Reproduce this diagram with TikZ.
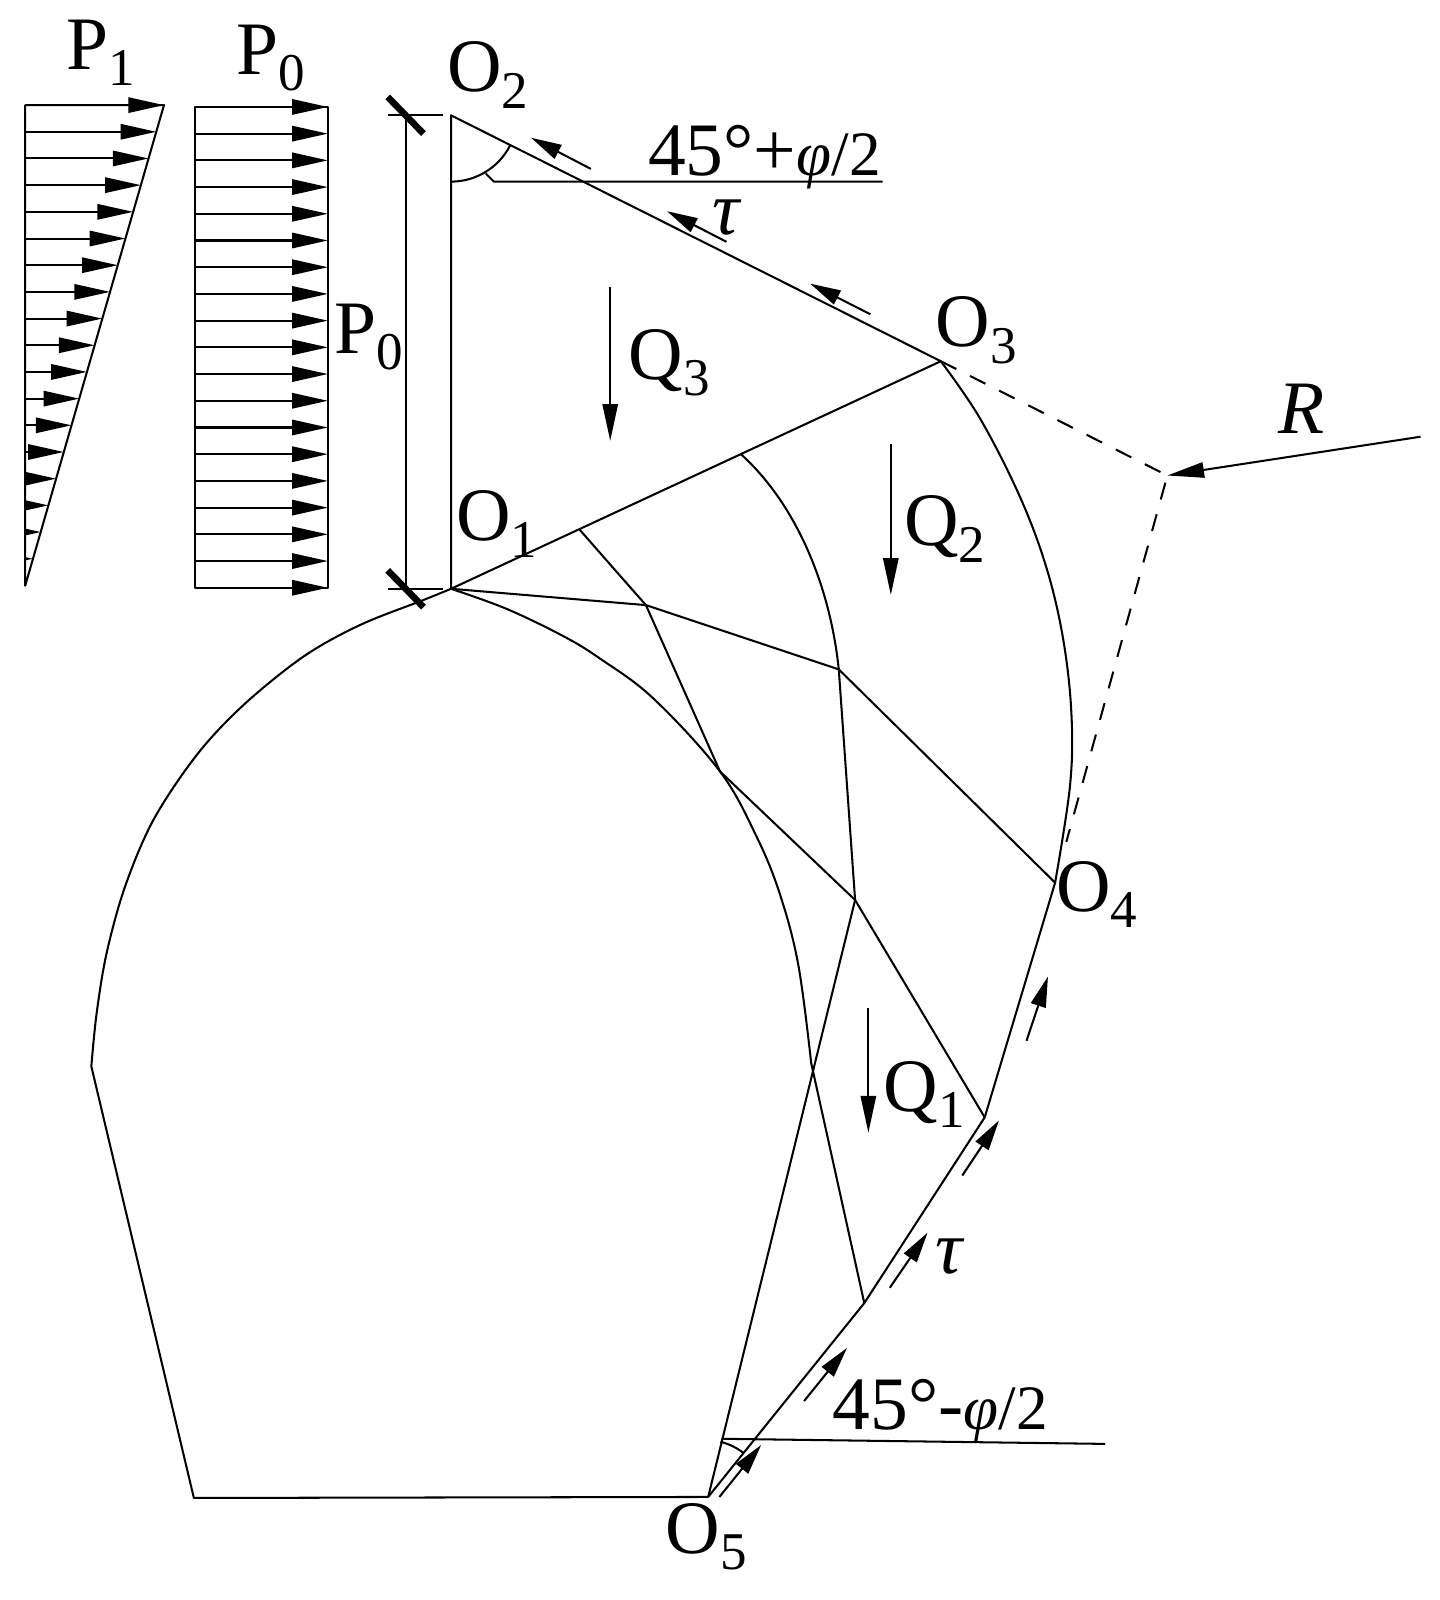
\documentclass[tikz,border=0pt]{standalone}
\usepackage{fontspec}
\setmainfont{Liberation Serif}
\usetikzlibrary{arrows.meta}
\newcommand{\bigf}{\fontsize{74}{74}\selectfont}
\newcommand{\subf}{\fontsize{52}{52}\selectfont}
\newcommand{\phif}{\fontsize{62}{62}\selectfont}
\newcommand{\lbl}[2]{{\bigf #1}\raisebox{-16pt}{\subf #2}}
\tikzset{
  ln/.style={line width=2pt,line join=round},
  txt/.style={inner sep=0pt,anchor=base west,text=black},
  loadarrow/.style={line width=2pt,-{Triangle[length=35pt,width=15pt]}},
  forcearrow/.style={line width=2pt,-{Triangle[length=36pt,width=15pt]}},
  sheararrow/.style={line width=2pt,-{Triangle[length=30pt,width=15pt]}},
  tick/.style={line width=6.5pt}
}
\begin{document}
\begin{tikzpicture}[x=1pt,y=-1pt]
\useasboundingbox (0,0) rectangle (1411,1568);
% key points
\coordinate (O1) at (442,577);
\coordinate (O2) at (442,113);
\coordinate (O3) at (922,354);
\coordinate (O4) at (1034,865);
\coordinate (O5) at (694,1467);
\coordinate (A) at (965,1095);
\coordinate (B) at (847,1277);
\coordinate (C) at (568,519);
\coordinate (D) at (726,445);
\coordinate (E) at (822,656);
\coordinate (F) at (633,593);
\coordinate (G) at (705.6,756);
\coordinate (H) at (838,882);
\coordinate (I) at (795,1042);
\coordinate (T) at (1144,466);
\coordinate (Tb) at (1045,825);
\coordinate (Rr) at (1392,428);
\coordinate (Bl) at (190,1468);
\coordinate (Wl) at (89.5,1045);
\coordinate (Tk) at (415,588);
% P1 triangle
\coordinate (p1a) at (24.7,103);
\coordinate (p1b) at (160.7,103);
\coordinate (p1c) at (24.7,574);
\coordinate (p1box) at (320,600);
\begin{scope}
\clip (p1a |- 0,80) rectangle (p1box);
\foreach \i in {0,...,17}{
  \pgfmathsetmacro{\yy}{103+26.15*\i}
  \pgfmathsetmacro{\xx}{160.7-0.28875*(\yy-103)}
  \coordinate (s\i) at (24.7,\yy);
  \coordinate (e\i) at (\xx,\yy);
  \draw[loadarrow] (s\i) -- (e\i);
}
\end{scope}
\draw[ln] (p1a) -- (p1b) -- (p1c) -- cycle;
% P0 box
\coordinate (p0a) at (190.8,104.8);
\coordinate (p0b) at (321.3,104.8);
\coordinate (p0c) at (321.3,576);
\coordinate (p0d) at (190.8,576);
\draw[ln] (p0a) -- (p0b) -- (p0c) -- (p0d) -- cycle;
\foreach \i in {0,...,18}{
  \pgfmathsetmacro{\yy}{104.8+26.178*\i}
  \coordinate (u\i) at (190.8,\yy);
  \coordinate (v\i) at (321.3,\yy);
  \draw[loadarrow] (u\i) -- (v\i);
}
% dimension
\coordinate (d1) at (398,113);
\coordinate (d2) at (398,577);
\coordinate (d1a) at (380,113);
\coordinate (d1b) at (434,113);
\coordinate (d2a) at (380,577);
\coordinate (d2b) at (434,577);
\draw[ln] (d1) -- (d2);
\draw[ln] (d1a) -- (d1b);
\draw[ln] (d2a) -- (d2b);
\coordinate (t1a) at (380,95);
\coordinate (t1b) at (415,131);
\coordinate (t2a) at (380,559);
\coordinate (t2b) at (415,595);
\draw[tick] (t1a) -- (t1b);
\draw[tick] (t2a) -- (t2b);
% wedge
\draw[ln] (O2) -- (O1) -- (O3) -- cycle;
% angle top
\coordinate (ang1) at (442,178);
\draw[ln] (ang1) arc[start angle=90,end angle=27,radius=65];
\coordinate (hl1) at (484,178);
\coordinate (hl2) at (865,178);
\coordinate (hl0) at (476,170);
\draw[ln] (hl0) -- (hl1) -- (hl2);
% shear top
\coordinate (sa1) at (579,165.5);
\coordinate (sa2) at (520.4,135);
\coordinate (sb1) at (712,237);
\coordinate (sb2) at (653.7,207);
\coordinate (sc1) at (853,308);
\coordinate (sc2) at (794,278);
\draw[sheararrow] (sa1) -- (sa2);
\draw[sheararrow] (sb1) -- (sb2);
\draw[sheararrow] (sc1) -- (sc2);
% Tunnel
\draw[ln] plot[smooth,tension=.55] coordinates {(O1) (Tk) (352.8,612.5) (297.3,643.5) (238.5,691) (192.7,740) (150.3,803.6) (122.5,869) (104.5,934) (94.7,993) (Wl)} -- (Bl) -- (O5) -- (H);
% slip surfaces
\draw[ln] plot[smooth,tension=.6] coordinates {(O3) (960.4,410) (999.6,487) (1025.7,557) (1042,627) (1050,700) (1048.6,770) (O4)};
\draw[ln] (O4) -- (A) -- (B) -- (O5);
\draw[ln] (D) .. controls (778,492) and (813,570) .. (E) -- (H);
\draw[ln] (O1) -- (F) -- (E) -- (O4);
\draw[ln] plot[smooth,tension=.5] coordinates {(C) (602.7,558.6) (F)} -- (G) -- (H) -- (A);
\draw[ln] plot[smooth,tension=.6] coordinates {(O1) (496.5,596.7) (552,623.4) (588,645.4) (640.3,684.5) (G) (741.5,820) (764.4,876.6) (782.4,946) (I)} -- (B);
% dashed
\draw[ln,dash pattern=on 17pt off 15pt] (O3) -- (T) -- (Tb);
\draw[forcearrow] (Rr) -- (T);
% Q arrows
\coordinate (q3a) at (598,281);
\coordinate (q3b) at (598,432);
\coordinate (q2a) at (873,435);
\coordinate (q2b) at (873,583);
\coordinate (q1a) at (851,988);
\coordinate (q1b) at (851,1110);
\draw[forcearrow] (q3a) -- (q3b);
\draw[forcearrow] (q2a) -- (q2b);
\draw[forcearrow] (q1a) -- (q1b);
% shear lower
\coordinate (la1) at (1006,1020);
\coordinate (la2) at (1027,957);
\coordinate (lb1) at (943,1152);
\coordinate (lb2) at (979,1098);
\coordinate (lc1) at (872,1262);
\coordinate (lc2) at (909,1208);
\coordinate (ld1) at (788,1373);
\coordinate (ld2) at (830,1321);
\coordinate (le1) at (705,1467);
\coordinate (le2) at (746,1416);
\draw[sheararrow] (la1) -- (la2);
\draw[sheararrow] (lb1) -- (lb2);
\draw[sheararrow] (lc1) -- (lc2);
\draw[sheararrow] (ld1) -- (ld2);
\draw[sheararrow] (le1) -- (le2);
% lower angle
\coordinate (hm1) at (707,1410);
\coordinate (hm2) at (1083,1415);
\draw[ln] (hm1) -- (hm2);
\coordinate (ang2) at (706,1413);
\draw[ln] (ang2) arc[start angle=-77,end angle=-51,radius=56];
% labels
\node[txt] (lP1) at (65,68) {\lbl{P}{1}};
\node[txt] (lP0) at (232,73) {\lbl{P}{0}};
\node[txt] (lP0b) at (328,346) {\lbl{P}{0}};
\node[txt] (lO2) at (438,90) {\lbl{O}{2}};
\node[txt] (lO1) at (447,530) {\lbl{O}{1}};
\node[txt] (lO3) at (917,340) {\lbl{O}{3}};
\node[txt] (lO4) at (1035,893) {\lbl{O}{4}};
\node[txt] (lO5) at (652,1522) {\lbl{O}{5}};
\node[txt] (lQ3) at (616,372) {\lbl{Q}{3}};
\node[txt] (lQ2) at (886,535) {\lbl{Q}{2}};
\node[txt] (lQ1) at (866,1089) {\lbl{Q}{1}};
\node[txt] (lR) at (1253,425) {\bigf\itshape R};
\node[txt] (ltA) at (698,230) {\bigf\itshape τ};
\node[txt] (ltB) at (917,1248) {\bigf\itshape τ};
\node[txt] (angA) at (635,172) {\bigf 45°+{\phif\itshape φ}{\phif /2}};
\node[txt] (angB) at (816,1401) {\bigf 45°-{\phif\itshape φ}{\phif /2}};
\end{tikzpicture}
\end{document}
